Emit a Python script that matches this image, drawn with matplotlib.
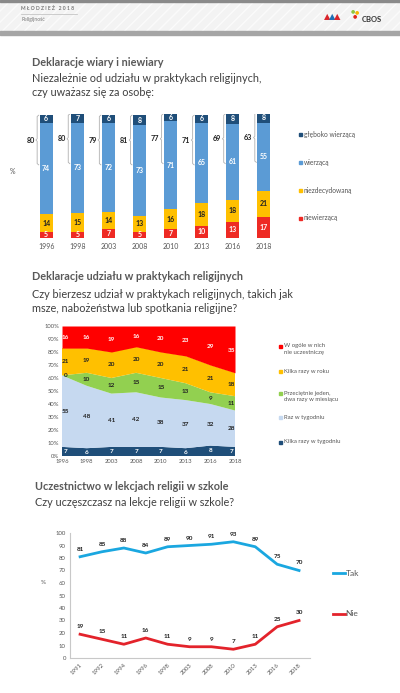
import matplotlib
matplotlib.use('Agg')
import matplotlib.pyplot as plt
import numpy as np
from matplotlib.patches import Rectangle

plt.rcParams['font.family'] = ['Lato', 'DejaVu Sans']

# Chart 1: faith declarations
years_faith = ['1996', '1998', '2003', '2008', '2010', '2013', '2016', '2018']
niewierzacy = [5, 5, 7, 5, 7, 10, 13, 17]
niezdecydowany = [14, 15, 14, 13, 16, 18, 18, 21]
wierzacy = [74, 73, 72, 73, 71, 65, 61, 55]
gleboko = [6, 7, 6, 8, 6, 6, 8, 8]
believers_total = [80, 80, 79, 81, 77, 71, 69, 63]

# Chart 2: participation in religious practice
years_pract = ['1996', '1998', '2003', '2008', '2010', '2013', '2016', '2018']
kilka_tydz = [7, 6, 7, 7, 7, 6, 8, 7]
raz_tydz = [55, 48, 41, 42, 38, 37, 32, 28]
miesiac = [0, 10, 12, 15, 15, 13, 9, 11]
kilka_rok = [21, 19, 20, 20, 20, 21, 21, 18]
wcale = [16, 16, 19, 16, 20, 23, 29, 35]

# Chart 3: religion lessons at school
years_lessons = ['1991', '1992', '1994', '1996', '1998', '2003', '2008', '2010', '2013', '2016', '2018']
tak = [81, 85, 88, 84, 89, 90, 91, 93, 89, 75, 70]
nie = [19, 15, 11, 16, 11, 9, 9, 7, 11, 25, 30]

W, H = 400, 693
fig = plt.figure(figsize=(W / 100, H / 100), dpi=100)
fig.patch.set_facecolor('white')


def px_axes(x0, y0, x1, y1):
    return fig.add_axes([x0 / W, 1 - y1 / H, (x1 - x0) / W, (y1 - y0) / H])


def ftext(x, y, s, **kw):
    return fig.text(x / W, 1 - y / H, s, **kw)


def fsquare(x, y, size, color):
    fig.patches.append(Rectangle((x / W, 1 - (y + size / 2) / H), size / W, size / H,
                                 transform=fig.transFigure, color=color, figure=fig))


# header band
fig.patches.append(Rectangle((0, 1 - 32 / H), 1, 32 / H, transform=fig.transFigure,
                             facecolor='#f3f3f3', edgecolor='#fbfbfb', hatch='///',
                             linewidth=0, figure=fig))
fig.patches.append(Rectangle((0, 1 - 35 / H), 1, 3.5 / H, transform=fig.transFigure,
                             color='#a5a5a5', figure=fig))
fig.patches.append(Rectangle((0, 1 - 2 / H), 1, 2 / H, transform=fig.transFigure,
                             color='#8a8a8a', figure=fig))
ftext(21, 9, 'M Ł O D Z I E Ż   2 0 1 8', fontsize=3.6, color='#777777', va='center', weight='bold')
fig.lines.append(plt.Line2D([21 / W, 77 / W], [1 - 14 / H] * 2, transform=fig.transFigure,
                            color='#bbbbbb', lw=0.5))
ftext(21, 19, 'Religijność', fontsize=3.6, color='#777777', va='center')
# logos (approximate)
for dx, c in [(0, '#d9252b'), (5, '#1f6fb5'), (10, '#d9252b')]:
    ftext(324 + dx, 17, '▲', fontsize=6, color=c, ha='left', va='center', family='DejaVu Sans')
for dx, dy, c in [(353, 11, '#8dc63f'), (357, 12, '#f7b500'), (355, 16, '#e2231a')]:
    ftext(dx, dy, '●', fontsize=3.5, color=c, ha='center', va='center', family='DejaVu Sans')
ftext(362, 19, 'CBOS', fontsize=5.5, color='#333333', weight='bold', va='center')

title_kw = dict(fontsize=7.8, color='#595959', weight='bold', va='center')
sub_kw = dict(fontsize=7.8, color='#404040', va='center')

# ---------- Chart 1 ----------
ftext(32, 62, 'Deklaracje wiary i niewiary', **title_kw)
ftext(32, 79, 'Niezależnie od udziału w praktykach religijnych,', **sub_kw)
ftext(32, 93, 'czy uważasz się za osobę:', **sub_kw)

c_dark, c_blue, c_yel, c_red = '#1f4e79', '#5b9bd5', '#ffc000', '#ee2a24'
ax1 = px_axes(30, 114, 280, 238)
x = np.arange(len(years_faith))
bw = 0.42
series1 = [(niewierzacy, c_red, 'white'), (niezdecydowany, c_yel, '#222222'),
           (wierzacy, c_blue, 'white'), (gleboko, c_dark, 'white')]
bottom = np.zeros(len(x))
for vals, col, tc in series1:
    vals = np.array(vals)
    ax1.bar(x, vals, bw, bottom=bottom, color=col, linewidth=0)
    for i, v in enumerate(vals):
        ax1.text(x[i], bottom[i] + v / 2, str(v), ha='center', va='center',
                 fontsize=5, color=tc, weight='bold')
    bottom = bottom + vals
for i, t in enumerate(believers_total):
    top = bottom[i]
    bx = x[i] - bw / 2 - 0.08
    ax1.plot([bx + 0.05, bx, bx, bx - 0.04, bx, bx, bx + 0.05],
             [top, top - 1, top - 19, top - 20, top - 21, top - 39, top - 40],
             color='#b0b0b0', lw=0.6)
    ax1.text(bx - 0.08, top - 20, str(t), ha='right', va='center', fontsize=5.2,
             color='#222222', weight='bold')
ax1.set_xlim(-0.52, 7.52)
ax1.set_ylim(0, 100)
ax1.axis('off')
for i, yr in enumerate(years_faith):
    ax1.text(x[i], -4, yr, ha='center', va='top', fontsize=5, color='#555555')
ftext(13, 172, '%', fontsize=5, color='#555555', ha='center', va='center')

leg1 = [('głęboko wierzącą', c_dark), ('wierzącą', c_blue),
        ('niezdecydowaną', c_yel), ('niewierzącą', c_red)]
for k, (lab, col) in enumerate(leg1):
    yy = 134 + k * 28
    fsquare(299, yy, 3, col)
    ftext(304, yy, lab, fontsize=4.8, color='#555555', va='center')

# ---------- Chart 2 ----------
ftext(32, 276, 'Deklaracje udziału w praktykach religijnych', **title_kw)
ftext(32, 294, 'Czy bierzesz udział w praktykach religijnych, takich jak', **sub_kw)
ftext(32, 309, 'msze, nabożeństwa lub spotkania religijne?', **sub_kw)

ax2 = px_axes(62, 326, 235, 456)
x2 = np.arange(len(years_pract))
layers = [(kilka_tydz, '#1f4e79', 'white'), (raz_tydz, '#c6d9f0', '#222222'),
          (miesiac, '#92d050', '#222222'), (kilka_rok, '#ffc000', '#222222'),
          (wcale, '#ff0000', 'white')]
ax2.stackplot(x2, *[np.array(l[0]) for l in layers[:-1]], colors=[l[1] for l in layers[:-1]],
              linewidth=0)
cum = np.sum([np.array(l[0]) for l in layers[:-1]], axis=0)
# top band (rounded shares) runs up to the 100% line
ax2.fill_between(x2, cum, 100, color=layers[-1][1], linewidth=0)
base = np.zeros(len(x2))
for vals, col, tc in layers:
    vals = np.array(vals)
    for i, v in enumerate(vals):
        xi = min(max(x2[i], 0.15), len(x2) - 1.15)
        ax2.text(xi, base[i] + v / 2, str(v), ha='center', va='center',
                 fontsize=4.6, color=tc, weight='bold')
    base = base + vals
ax2.set_xlim(0, len(x2) - 1)
ax2.set_ylim(0, 100)
ax2.set_xticks(x2)
ax2.set_xticklabels(years_pract)
ax2.set_yticks(np.arange(0, 101, 10))
ax2.set_yticklabels([f'{v}%' for v in range(0, 101, 10)])
ax2.tick_params(labelsize=4.2, colors='#555555', length=0, pad=2)
for s in ax2.spines.values():
    s.set_visible(False)

leg2 = [('W ogóle w nich\nnie uczestniczę', '#ff0000', 346),
        ('Kilka razy w roku', '#ffc000', 371),
        ('Przeciętnie jeden,\ndwa razy w miesiącu', '#92d050', 393),
        ('Raz w tygodniu', '#c6d9f0', 418),
        ('Kilka razy w tygodniu', '#1f4e79', 442)]
for lab, col, yy in leg2:
    fsquare(279, yy, 3, col)
    ftext(284, yy - 2.5, lab, fontsize=4.3, color='#555555', va='top', linespacing=1.3)

# ---------- Chart 3 ----------
ftext(35, 486, 'Uczestnictwo w lekcjach religii w szkole', **title_kw)
ftext(35, 503, 'Czy uczęszczasz na lekcje religii w szkole?', **sub_kw)

ax3 = px_axes(70, 533, 310, 658)
x3 = np.arange(len(years_lessons))
c_tak, c_nie = '#1aa7e0', '#e3232b'
ax3.plot(x3, tak, color=c_tak, lw=2)
ax3.plot(x3, nie, color=c_nie, lw=2)
for i in range(len(x3)):
    ax3.text(x3[i], tak[i] + 4, str(tak[i]), ha='center', va='bottom', fontsize=4.6,
             color='#222222', weight='bold')
    ax3.text(x3[i], nie[i] + 4, str(nie[i]), ha='center', va='bottom', fontsize=4.6,
             color='#222222', weight='bold')
ax3.set_xlim(-0.46, 10.5)
ax3.set_ylim(0, 100)
ax3.set_yticks(np.arange(0, 101, 10))
ax3.set_xticks(x3)
ax3.set_xticklabels(years_lessons, rotation=45, ha='right', rotation_mode='anchor')
ax3.tick_params(labelsize=4.3, colors='#555555', length=0, pad=3)
ax3.spines['top'].set_visible(False)
ax3.spines['right'].set_visible(False)
ax3.spines['left'].set_color('#c8c8c8')
ax3.spines['bottom'].set_color('#c8c8c8')
ftext(43, 583, '%', fontsize=4.5, color='#555555', ha='center', va='center')

for lab, col, yy in [('Tak', c_tak, 573), ('Nie', c_nie, 614)]:
    fig.lines.append(plt.Line2D([333 / W, 345 / W], [1 - yy / H] * 2, transform=fig.transFigure,
                                color=col, lw=2))
    ftext(345.5, yy, lab, fontsize=6, color='#555555', va='center')

fig.savefig('out.png', dpi=100)
